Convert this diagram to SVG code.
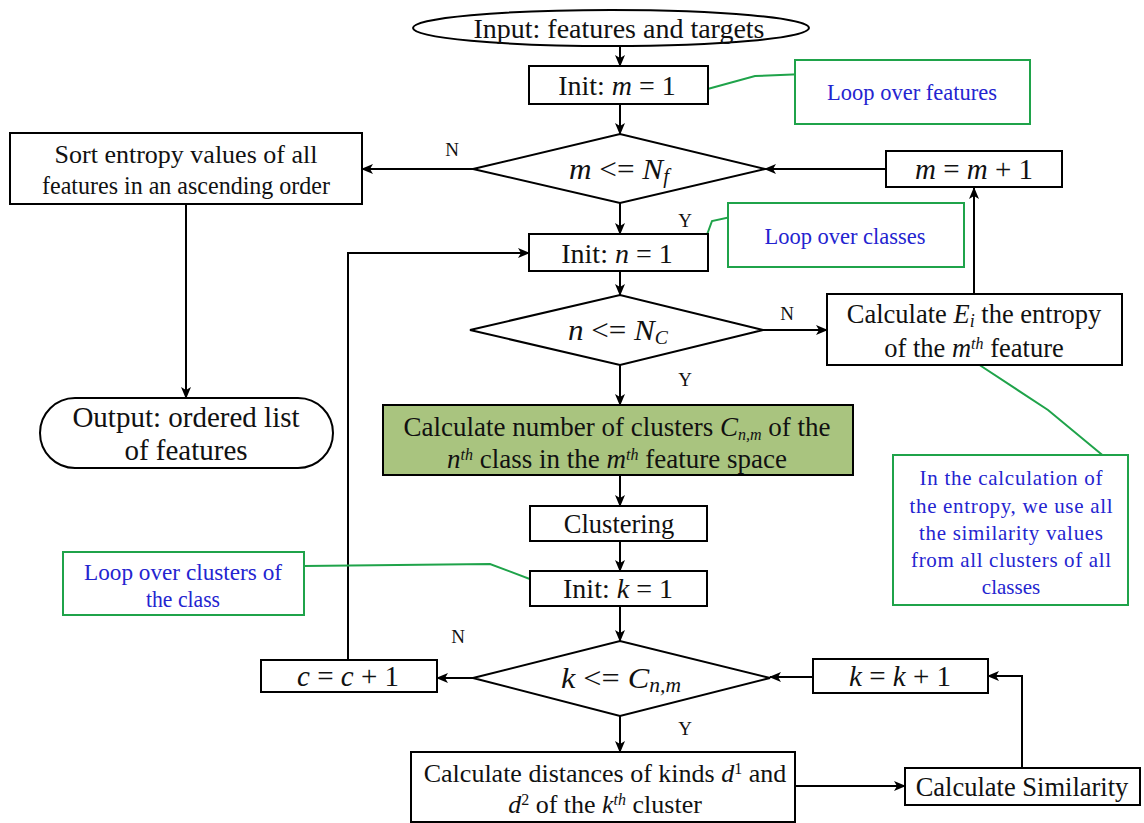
<svg xmlns="http://www.w3.org/2000/svg" width="1144" height="823" viewBox="0 0 1144 823">
<style>
text{font-family:"Liberation Serif","Times New Roman",serif;fill:#111;}
.b{fill:#fff;stroke:#000;stroke-width:2;}
.g{fill:#a9c47f;stroke:#000;stroke-width:2;}
.n{fill:#fff;stroke:#1fa34a;stroke-width:2;}
.t{font-size:28px;text-anchor:middle;}
.bl{font-size:22.5px;text-anchor:middle;fill:#2424d0;}
.lb{font-size:19px;text-anchor:middle;}
.i{font-style:italic;}
.sup{font-size:16px;baseline-shift:8px;}
.sub{font-size:16px;baseline-shift:-4px;}
.c{fill:none;stroke:#000;stroke-width:2;}
.gl{fill:none;stroke:#1fa34a;stroke-width:2;}
</style>
<defs>
<marker id="a" markerUnits="userSpaceOnUse" markerWidth="12" markerHeight="10" refX="11" refY="5" orient="auto">
<path d="M0,0 L12,5 L0,10 L3,5 Z" fill="#000"/>
</marker>
</defs>

<g id="connectors">
<line class="c" x1="620" y1="46" x2="620" y2="66" marker-end="url(#a)"/>
<line class="c" x1="620" y1="104" x2="620" y2="134" marker-end="url(#a)"/>
<line class="c" x1="473" y1="169" x2="362" y2="169" marker-end="url(#a)"/>
<line class="c" x1="186" y1="204" x2="186" y2="398" marker-end="url(#a)"/>
<line class="c" x1="886" y1="169" x2="765" y2="169" marker-end="url(#a)"/>
<line class="c" x1="620" y1="203" x2="620" y2="234" marker-end="url(#a)"/>
<line class="c" x1="620" y1="271" x2="620" y2="295" marker-end="url(#a)"/>
<line class="c" x1="763" y1="330" x2="827" y2="330" marker-end="url(#a)"/>
<line class="c" x1="974" y1="294" x2="974" y2="188" marker-end="url(#a)"/>
<line class="c" x1="620" y1="365" x2="620" y2="405" marker-end="url(#a)"/>
<line class="c" x1="620" y1="475" x2="620" y2="506" marker-end="url(#a)"/>
<line class="c" x1="620" y1="541" x2="620" y2="571" marker-end="url(#a)"/>
<line class="c" x1="620" y1="606" x2="620" y2="641" marker-end="url(#a)"/>
<line class="c" x1="473" y1="678" x2="437" y2="678" marker-end="url(#a)"/>
<polyline class="c" points="348,660 348,253 529,253" marker-end="url(#a)"/>
<line class="c" x1="813" y1="677" x2="770" y2="677" marker-end="url(#a)"/>
<line class="c" x1="620" y1="716" x2="620" y2="752" marker-end="url(#a)"/>
<line class="c" x1="795" y1="786" x2="905" y2="786" marker-end="url(#a)"/>
<polyline class="c" points="1022,768 1022,676 988,676" marker-end="url(#a)"/>
<polyline class="gl" points="693,93 755,76 805,74"/>
<polyline class="gl" points="697,262 712,221 740,215"/>
<polyline class="gl" points="978,364 1048,410 1112,463"/>
<polyline class="gl" points="304,566 490,564 543,584"/>
<text class="lb" x="452" y="156">N</text>
<text class="lb" x="685" y="227">Y</text>
<text class="lb" x="787" y="320">N</text>
<text class="lb" x="685" y="386">Y</text>
<text class="lb" x="458" y="643">N</text>
<text class="lb" x="685" y="735">Y</text>
</g>

<g id="input">
<ellipse class="b" cx="611" cy="28" rx="198" ry="18"/>
<text class="t" x="619" y="38">Input: features and targets</text>
</g>

<g id="init-m">
<rect class="b" x="529" y="66" width="179" height="38"/>
<text class="t" x="617" y="95">Init: <tspan class="i">m</tspan> = 1</text>
</g>

<g id="note-features">
<rect class="n" x="795" y="60" width="235" height="64"/>
<text class="bl" x="912" y="100">Loop over features</text>
</g>

<g id="dec-m">
<polygon class="b" points="473,169 620,134 765,169 620,203"/>
<text class="t" x="619" y="179" style="font-size:30px" textLength="100" lengthAdjust="spacingAndGlyphs"><tspan class="i">m</tspan> &lt;= <tspan class="i">N</tspan><tspan class="i sub" style="font-size:20px">f</tspan></text>
</g>

<g id="sort">
<rect class="b" x="10" y="133" width="352" height="71"/>
<text class="t" x="186" y="163" style="font-size:26px">Sort entropy values of all</text>
<text class="t" x="186" y="194" style="font-size:26px" textLength="288" lengthAdjust="spacingAndGlyphs">features in an ascending order</text>
</g>

<g id="output">
<rect class="b" x="40" y="398" width="293" height="70" rx="35" ry="35"/>
<text class="t" x="186" y="427" style="font-size:29px">Output: ordered list</text>
<text class="t" x="186" y="460" style="font-size:29px">of features</text>
</g>

<g id="m-inc">
<rect class="b" x="886" y="151" width="176" height="36"/>
<text class="t" x="974" y="179" style="font-size:29px"><tspan class="i">m</tspan> = <tspan class="i">m</tspan> + 1</text>
</g>

<g id="init-n">
<rect class="b" x="529" y="234" width="179" height="37"/>
<text class="t" x="617" y="263">Init: <tspan class="i">n</tspan> = 1</text>
</g>

<g id="note-classes">
<rect class="n" x="728" y="203" width="236" height="64"/>
<text class="bl" x="845" y="244">Loop over classes</text>
</g>

<g id="dec-n">
<polygon class="b" points="470,330 620,295 763,330 620,365"/>
<text class="t" x="618" y="340" style="font-size:30px" textLength="100" lengthAdjust="spacingAndGlyphs"><tspan class="i">n</tspan> &lt;= <tspan class="i">N</tspan><tspan class="i sub" style="font-size:19px">C</tspan></text>
</g>

<g id="calc-entropy">
<rect class="b" x="827" y="294" width="295" height="71"/>
<text class="t" x="974" y="323" style="font-size:26.5px">Calculate <tspan class="i">E</tspan><tspan class="i sub" style="font-size:18px">i</tspan> the entropy</text>
<text class="t" x="974" y="357" style="font-size:26.5px">of  the <tspan class="i">m</tspan><tspan class="i sup">th</tspan> feature</text>
</g>

<g id="note-entropy">
<rect class="n" x="893" y="455" width="235" height="150"/>
<text class="bl" x="1011" y="485" style="font-size:21px" textLength="183" lengthAdjust="spacing">In the calculation of</text>
<text class="bl" x="1011" y="513" style="font-size:21px" textLength="203" lengthAdjust="spacing">the entropy, we use all</text>
<text class="bl" x="1011" y="540" style="font-size:21px" textLength="184" lengthAdjust="spacing">the similarity values</text>
<text class="bl" x="1011" y="567" style="font-size:21px" textLength="200" lengthAdjust="spacing">from all clusters of all</text>
<text class="bl" x="1011" y="594" style="font-size:21px">classes</text>
</g>

<g id="calc-clusters">
<rect class="g" x="383" y="405" width="470" height="70"/>
<text class="t" x="617" y="436" style="font-size:27px">Calculate number of clusters <tspan class="i">C</tspan><tspan class="i sub">n,m</tspan>  of the</text>
<text class="t" x="617" y="468" style="font-size:27px"><tspan class="i">n</tspan><tspan class="i sup">th</tspan> class in the <tspan class="i">m</tspan><tspan class="i sup">th</tspan> feature space</text>
</g>

<g id="clustering">
<rect class="b" x="530" y="506" width="177" height="35"/>
<text class="t" x="619" y="533" style="font-size:26.5px">Clustering</text>
</g>

<g id="init-k">
<rect class="b" x="530" y="571" width="177" height="35"/>
<text class="t" x="618" y="598">Init: <tspan class="i">k</tspan> = 1</text>
</g>

<g id="note-clusters">
<rect class="n" x="63" y="552" width="241" height="63"/>
<text class="bl" x="183" y="580" style="font-size:23px" textLength="198" lengthAdjust="spacingAndGlyphs">Loop over clusters of</text>
<text class="bl" x="183" y="607" style="font-size:23px" textLength="74" lengthAdjust="spacingAndGlyphs">the class</text>
</g>

<g id="dec-k">
<polygon class="b" points="473,678 620,641 770,678 620,716"/>
<text class="t" x="621" y="688" style="font-size:30px" textLength="120" lengthAdjust="spacingAndGlyphs"><tspan class="i">k</tspan> &lt;= <tspan class="i">C</tspan><tspan class="i sub" style="font-size:20px">n,m</tspan></text>
</g>

<g id="c-inc">
<rect class="b" x="261" y="660" width="176" height="32"/>
<text class="t" x="348" y="686" style="font-size:29px"><tspan class="i">c</tspan> = <tspan class="i">c</tspan> + 1</text>
</g>

<g id="k-inc">
<rect class="b" x="813" y="659" width="175" height="34"/>
<text class="t" x="900" y="686" style="font-size:29px"><tspan class="i">k</tspan> = <tspan class="i">k</tspan> + 1</text>
</g>

<g id="calc-distances">
<rect class="b" x="411" y="752" width="384" height="70"/>
<text class="t" x="605" y="782" style="font-size:26px">Calculate distances of kinds <tspan class="i">d</tspan><tspan class="sup">1</tspan> and</text>
<text class="t" x="605" y="813" style="font-size:26px"><tspan class="i">d</tspan><tspan class="sup">2</tspan> of the <tspan class="i">k</tspan><tspan class="i sup">th</tspan> cluster</text>
</g>

<g id="calc-similarity">
<rect class="b" x="905" y="768" width="235" height="37"/>
<text class="t" x="1022" y="796" style="font-size:26.5px">Calculate Similarity</text>
</g>
</svg>
